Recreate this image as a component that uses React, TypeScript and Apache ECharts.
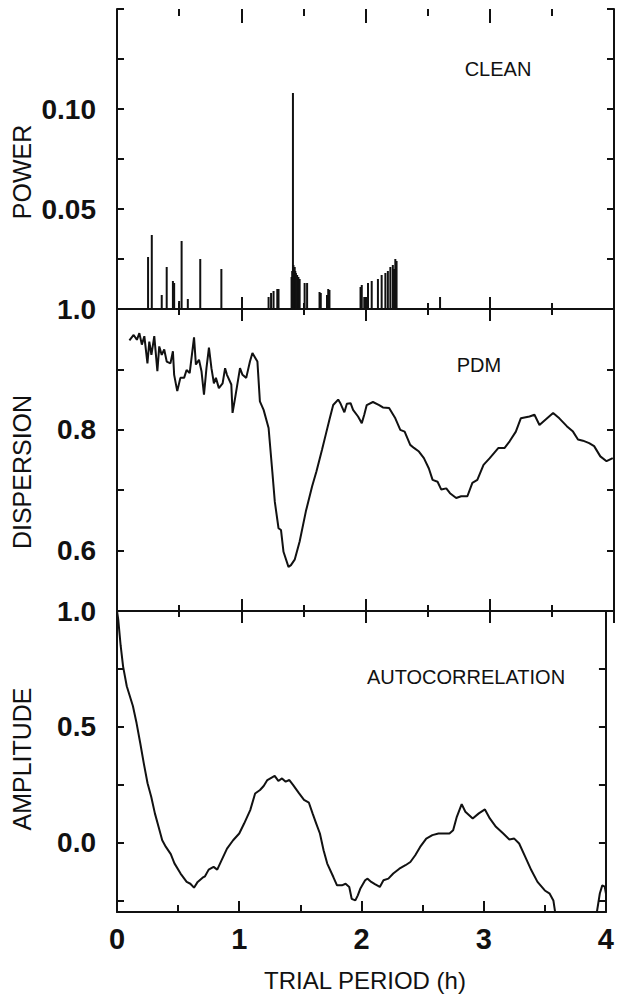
import React, { useEffect, useRef } from "react";
import * as echarts from "echarts";

// CLEAN power spectrum (spikes)
const cleanPeriod = [0.25, 0.28, 0.36, 0.40, 0.45, 0.46, 0.50, 0.52, 0.57, 0.67, 0.84, 1.22, 1.24, 1.26, 1.29, 1.30, 1.405, 1.41, 1.416, 1.42, 1.425, 1.43, 1.435, 1.44, 1.45, 1.46, 1.47, 1.51, 1.53, 1.63, 1.64, 1.69, 1.70, 1.71, 1.96, 1.97, 1.99, 2.01, 2.02, 2.05, 2.10, 2.13, 2.16, 2.18, 2.20, 2.22, 2.23, 2.24, 2.25, 2.60];
const cleanPower = [0.026, 0.037, 0.007, 0.021, 0.014, 0.013, 0.004, 0.034, 0.005, 0.025, 0.020, 0.006, 0.008, 0.009, 0.010, 0.010, 0.016, 0.019, 0.108, 0.022, 0.021, 0.021, 0.019, 0.018, 0.017, 0.016, 0.015, 0.013, 0.013, 0.0085, 0.008, 0.007, 0.010, 0.0095, 0.011, 0.012, 0.006, 0.006, 0.013, 0.014, 0.015, 0.017, 0.018, 0.019, 0.021, 0.022, 0.020, 0.025, 0.024, 0.006];

// PDM dispersion
const pdmPeriod = [0.10, 0.134, 0.16, 0.18, 0.20, 0.22, 0.245, 0.26, 0.277, 0.30, 0.325, 0.34, 0.36, 0.38, 0.40, 0.43, 0.45, 0.46, 0.485, 0.51, 0.54, 0.56, 0.585, 0.62, 0.635, 0.66, 0.68, 0.70, 0.72, 0.74, 0.76, 0.78, 0.796, 0.82, 0.85, 0.87, 0.885, 0.92, 0.93, 0.95, 0.99, 1.01, 1.04, 1.07, 1.09, 1.13, 1.15, 1.18, 1.22, 1.25, 1.27, 1.30, 1.32, 1.34, 1.38, 1.40, 1.43, 1.47, 1.52, 1.57, 1.605, 1.65, 1.68, 1.71, 1.74, 1.78, 1.80, 1.83, 1.85, 1.88, 1.90, 1.94, 1.97, 1.99, 2.01, 2.06, 2.11, 2.14, 2.19, 2.24, 2.28, 2.315, 2.36, 2.39, 2.43, 2.47, 2.51, 2.54, 2.58, 2.61, 2.65, 2.68, 2.73, 2.77, 2.82, 2.86, 2.90, 2.95, 3.00, 3.07, 3.12, 3.16, 3.21, 3.25, 3.32, 3.36, 3.40, 3.45, 3.51, 3.56, 3.62, 3.67, 3.71, 3.75, 3.80, 3.84, 3.89, 3.94, 3.99];
const pdmDispersion = [0.948, 0.957, 0.949, 0.960, 0.941, 0.955, 0.910, 0.946, 0.924, 0.955, 0.897, 0.938, 0.924, 0.933, 0.913, 0.910, 0.930, 0.891, 0.864, 0.886, 0.886, 0.899, 0.894, 0.953, 0.908, 0.916, 0.897, 0.858, 0.902, 0.936, 0.902, 0.877, 0.886, 0.869, 0.877, 0.902, 0.891, 0.875, 0.828, 0.852, 0.902, 0.891, 0.886, 0.913, 0.927, 0.913, 0.847, 0.833, 0.803, 0.731, 0.681, 0.637, 0.634, 0.598, 0.573, 0.576, 0.585, 0.615, 0.665, 0.706, 0.731, 0.767, 0.792, 0.817, 0.841, 0.850, 0.843, 0.829, 0.843, 0.844, 0.833, 0.822, 0.811, 0.825, 0.841, 0.846, 0.841, 0.837, 0.836, 0.819, 0.800, 0.797, 0.775, 0.770, 0.764, 0.753, 0.736, 0.717, 0.714, 0.701, 0.703, 0.695, 0.687, 0.690, 0.690, 0.712, 0.717, 0.742, 0.753, 0.770, 0.770, 0.781, 0.797, 0.819, 0.822, 0.825, 0.808, 0.817, 0.828, 0.819, 0.806, 0.797, 0.784, 0.782, 0.778, 0.773, 0.756, 0.748, 0.753];

// Autocorrelation amplitude
const acfPeriod = [0, 0.01, 0.03, 0.05, 0.08, 0.13, 0.16, 0.19, 0.22, 0.25, 0.28, 0.31, 0.34, 0.37, 0.40, 0.44, 0.47, 0.52, 0.57, 0.60, 0.63, 0.66, 0.70, 0.72, 0.75, 0.79, 0.82, 0.855, 0.90, 0.95, 1.00, 1.04, 1.09, 1.13, 1.17, 1.20, 1.23, 1.29, 1.32, 1.35, 1.38, 1.41, 1.44, 1.49, 1.53, 1.57, 1.60, 1.63, 1.66, 1.69, 1.72, 1.77, 1.80, 1.84, 1.87, 1.90, 1.92, 1.95, 1.97, 1.99, 2.03, 2.05, 2.08, 2.11, 2.15, 2.18, 2.22, 2.26, 2.31, 2.36, 2.40, 2.44, 2.48, 2.53, 2.58, 2.63, 2.67, 2.72, 2.75, 2.78, 2.82, 2.85, 2.91, 2.96, 3.01, 3.05, 3.10, 3.16, 3.21, 3.25, 3.29, 3.34, 3.39, 3.44, 3.50, 3.54, 3.57, 3.59];
const acfAmplitude = [1.0, 0.964, 0.85, 0.76, 0.675, 0.59, 0.516, 0.43, 0.34, 0.256, 0.198, 0.126, 0.068, 0.01, -0.019, -0.05, -0.09, -0.134, -0.17, -0.178, -0.195, -0.17, -0.152, -0.146, -0.117, -0.105, -0.117, -0.077, -0.026, 0.01, 0.039, 0.082, 0.14, 0.212, 0.227, 0.244, 0.27, 0.288, 0.266, 0.277, 0.263, 0.27, 0.249, 0.212, 0.184, 0.172, 0.126, 0.082, 0.039, -0.033, -0.091, -0.149, -0.185, -0.185, -0.178, -0.192, -0.243, -0.25, -0.228, -0.2, -0.163, -0.156, -0.17, -0.18, -0.192, -0.163, -0.156, -0.134, -0.113, -0.098, -0.084, -0.055, -0.019, 0.017, 0.032, 0.039, 0.039, 0.039, 0.053, 0.111, 0.166, 0.133, 0.104, 0.126, 0.143, 0.104, 0.068, 0.039, 0.013, 0.017, -0.004, -0.062, -0.12, -0.17, -0.207, -0.221, -0.25, -0.32];
const acfTailPeriod = [3.92, 3.95, 3.97, 3.99, 4.0];
const acfTailAmplitude = [-0.32, -0.22, -0.185, -0.19, -0.22];

const xTickLabels = ["0", "1", "2", "3", "4"];
const panelNotes = ["CLEAN", "PDM", "AUTOCORRELATION"];
const yNames = ["POWER", "DISPERSION", "AMPLITUDE"];
const xName = "TRIAL PERIOD (h)";

const FONT = "'Liberation Sans', Arial, Helvetica, sans-serif";
const BLACK = "#111";

export default function App() {
  const ref = useRef<HTMLDivElement>(null);
  useEffect(() => {
    if (!ref.current) return;
    const chart = echarts.init(ref.current, undefined, { renderer: "svg" });
    const L = 117, W = 497;
    const tickStyle = { color: BLACK, width: 2 };

    // main panels
    const grids: any[] = [
      { left: L, top: 9, width: W, height: 300 },
      { left: L, top: 309, width: W, height: 302 },
      { left: L, top: 611, width: W, height: 301 },
    ];
    const xAxes: any[] = [];
    const yAxes: any[] = [];

    const mainX = (gi: number, major: number, minor: number, labels: boolean) => ({
      type: "value",
      gridIndex: gi,
      position: "bottom",
      min: 0,
      max: 4,
      interval: 1,
      axisLine: { show: true, onZero: false, lineStyle: tickStyle },
      axisTick: { show: true, inside: true, length: major, lineStyle: tickStyle },
      minorTick: { show: true, splitNumber: 2, length: minor, lineStyle: tickStyle },
      splitLine: { show: false },
      minorSplitLine: { show: false },
      axisLabel: labels
        ? { show: true, margin: 12, fontSize: 29, fontWeight: "bold", color: BLACK, fontFamily: FONT, formatter: (v: number) => xTickLabels[Math.round(v)] ?? "" }
        : { show: false },
    });
    xAxes.push(mainX(0, 12, 6, false), mainX(1, 12, 6, false), mainX(2, 11, 7, true));

    const yBase = (gi: number, pos: "left" | "right") => ({
      type: "value",
      gridIndex: gi,
      position: pos,
      axisLine: { show: true, onZero: false, lineStyle: tickStyle },
      splitLine: { show: false },
      minorSplitLine: { show: false },
    });
    const yLabelStyle = { margin: 21, fontSize: 28, fontWeight: "bold", color: BLACK, fontFamily: FONT };
    const yTick = { show: true, inside: true, length: 7, lineStyle: tickStyle };
    const acfTicks = [-0.25, 0, 0.25, 0.5, 0.75, 1.0];

    yAxes.push(
      {
        ...yBase(0, "left"), min: 0, max: 0.15, interval: 0.025, axisTick: yTick,
        axisLabel: {
          ...yLabelStyle,
          formatter: (v: number) => {
            const r = Math.round(v * 1000);
            return r === 50 ? "0.05" : r === 100 ? "0.10" : "";
          },
        },
      },
      { ...yBase(0, "right"), min: 0, max: 0.15, interval: 0.025, axisTick: yTick, axisLabel: { show: false } },
      {
        ...yBase(1, "left"), min: 0.5, max: 1.0, interval: 0.1, axisTick: yTick,
        axisLabel: {
          ...yLabelStyle,
          formatter: (v: number) => {
            const r = Math.round(v * 10);
            return r === 6 || r === 8 || r === 10 ? (r / 10).toFixed(1) : "";
          },
        },
      },
      { ...yBase(1, "right"), min: 0.5, max: 1.0, interval: 0.1, axisTick: yTick, axisLabel: { show: false } },
      {
        ...yBase(2, "left"), min: -0.3, max: 1.0,
        axisTick: { ...yTick, customValues: acfTicks },
        axisLabel: { ...yLabelStyle, customValues: [0, 0.5, 1.0], formatter: (v: number) => v.toFixed(1) },
      },
      {
        ...yBase(2, "right"), min: -0.3, max: 1.0,
        axisTick: { ...yTick, customValues: acfTicks },
        axisLabel: { show: false },
      }
    );

    // thin helper strips that carry the downward-pointing ticks on each panel's top edge
    const edges = [
      { top: 9, major: 14, minor: 7 },
      { top: 309, major: 12, minor: 6 },
      { top: 611, major: 12, minor: 6 },
    ];
    edges.forEach((e) => {
      [
        { h: e.major, majorShow: true, minorShow: false },
        { h: e.minor, majorShow: false, minorShow: true },
      ].forEach((s) => {
        const gi = grids.length;
        grids.push({ left: L, top: e.top, width: W, height: s.h });
        xAxes.push({
          type: "value",
          gridIndex: gi,
          position: "bottom",
          min: 0,
          max: 4,
          interval: 1,
          axisLine: { show: false, onZero: false },
          axisTick: { show: s.majorShow, inside: true, length: s.h, lineStyle: tickStyle },
          minorTick: { show: s.minorShow, splitNumber: 2, length: s.h, lineStyle: tickStyle },
          splitLine: { show: false },
          minorSplitLine: { show: false },
          axisLabel: { show: false },
        });
        yAxes.push({ type: "value", gridIndex: gi, min: 0, max: 1, show: false });
      });
    });

    const option: any = {
      animation: false,
      backgroundColor: "#fff",
      grid: grids,
      xAxis: xAxes,
      yAxis: yAxes,
      series: [
        {
          type: "bar",
          xAxisIndex: 0,
          yAxisIndex: 0,
          barWidth: 2,
          itemStyle: { color: BLACK },
          data: cleanPeriod.map((p, i) => [p, cleanPower[i]]),
        },
        {
          type: "line",
          xAxisIndex: 1,
          yAxisIndex: 2,
          symbol: "none",
          lineStyle: { color: BLACK, width: 2 },
          data: pdmPeriod.map((p, i) => [p, pdmDispersion[i]]),
        },
        {
          type: "line",
          xAxisIndex: 2,
          yAxisIndex: 4,
          symbol: "none",
          clip: true,
          lineStyle: { color: BLACK, width: 2 },
          data: acfPeriod.map((p, i) => [p, acfAmplitude[i]]),
        },
        {
          type: "line",
          xAxisIndex: 2,
          yAxisIndex: 4,
          symbol: "none",
          clip: true,
          lineStyle: { color: BLACK, width: 2 },
          data: acfTailPeriod.map((p, i) => [p, acfTailAmplitude[i]]),
        },
      ],
      graphic: [
        { type: "text", x: 498, y: 69, style: { text: panelNotes[0], font: `20px ${FONT}`, fill: BLACK, textAlign: "center", textVerticalAlign: "middle" } },
        { type: "text", x: 479, y: 365, style: { text: panelNotes[1], font: `20px ${FONT}`, fill: BLACK, textAlign: "center", textVerticalAlign: "middle" } },
        { type: "text", x: 466, y: 677, style: { text: panelNotes[2], font: `20px ${FONT}`, fill: BLACK, textAlign: "center", textVerticalAlign: "middle" } },
        { type: "text", x: 22, y: 172, rotation: Math.PI / 2, style: { text: yNames[0], font: `25px ${FONT}`, fill: BLACK, textAlign: "center", textVerticalAlign: "middle" } },
        { type: "text", x: 22, y: 472, rotation: Math.PI / 2, style: { text: yNames[1], font: `25px ${FONT}`, fill: BLACK, textAlign: "center", textVerticalAlign: "middle" } },
        { type: "text", x: 22, y: 759, rotation: Math.PI / 2, style: { text: yNames[2], font: `25px ${FONT}`, fill: BLACK, textAlign: "center", textVerticalAlign: "middle" } },
        { type: "text", x: 365, y: 980, style: { text: xName, font: `24px ${FONT}`, fill: BLACK, textAlign: "center", textVerticalAlign: "middle" } },
      ],
    };
    chart.setOption(option);
    return () => chart.dispose();
  }, []);
  return <div ref={ref} style={{ position: "fixed", left: 0, top: 0, width: 617, height: 996 }} />;
}
